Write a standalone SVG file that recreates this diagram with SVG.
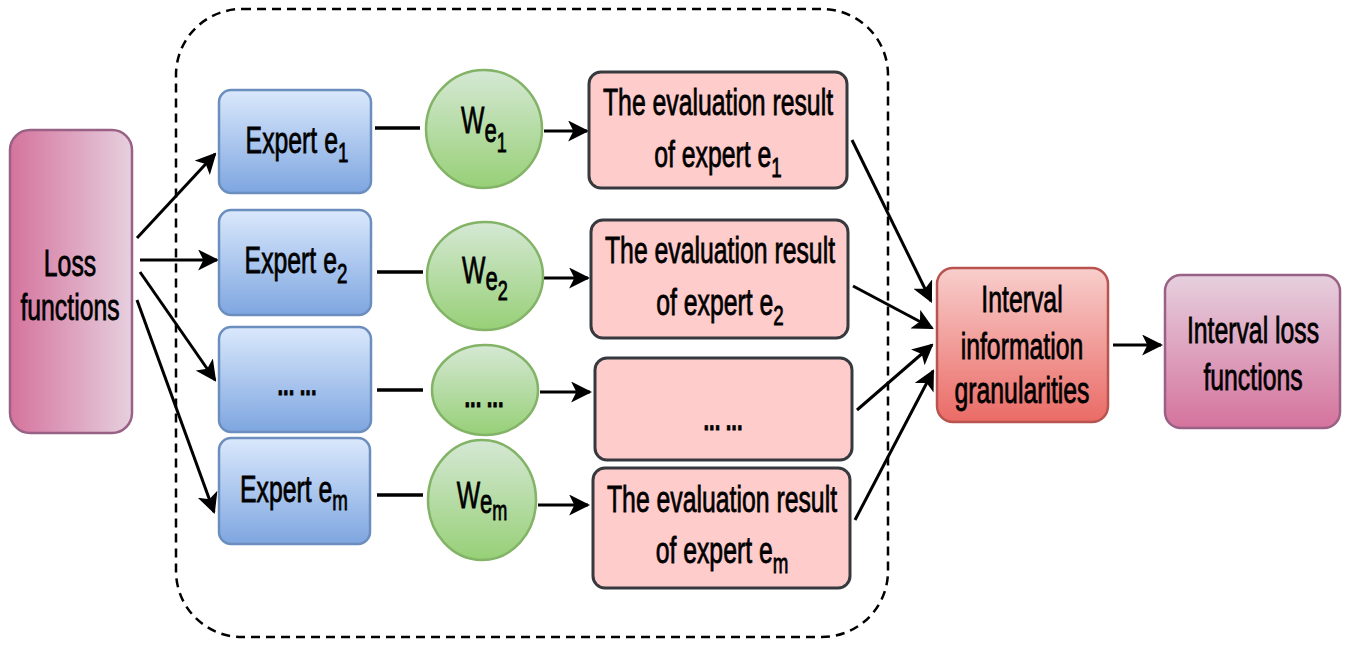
<svg xmlns="http://www.w3.org/2000/svg" width="1347" height="646" viewBox="0 0 1347 646">
<defs>
<linearGradient id="gPinkH" x1="0" y1="0" x2="1" y2="0"><stop offset="0" stop-color="#d5739d"/><stop offset="1" stop-color="#e6d0de"/></linearGradient>
<linearGradient id="gPinkV" x1="0" y1="0" x2="0" y2="1"><stop offset="0" stop-color="#e6d0de"/><stop offset="1" stop-color="#d5739d"/></linearGradient>
<linearGradient id="gRed" x1="0" y1="0" x2="0" y2="1"><stop offset="0" stop-color="#f8cecc"/><stop offset="1" stop-color="#ea6b66"/></linearGradient>
<linearGradient id="gBlue" x1="0" y1="0" x2="0" y2="1"><stop offset="0" stop-color="#dae8fc"/><stop offset="1" stop-color="#7ea6e0"/></linearGradient>
<linearGradient id="gGreen" x1="0" y1="0" x2="0" y2="1"><stop offset="0" stop-color="#d5e8d4"/><stop offset="1" stop-color="#97d077"/></linearGradient>
<marker id="arr" viewBox="0 0 10 10" refX="9" refY="5" markerWidth="7" markerHeight="7" orient="auto" markerUnits="strokeWidth">
<path d="M0,0 L10,5 L0,10 L2.5,5 Z" fill="#000"/>
</marker>
</defs>
<style>
text{font-family:"Liberation Sans",Arial,sans-serif;font-size:37px;fill:#000;stroke:#000;stroke-width:0.8;text-anchor:middle;}
.blue{fill:url(#gBlue);stroke:#6c8ebf;stroke-width:2.5;}
.green{fill:url(#gGreen);stroke:#82b366;stroke-width:2.5;}
.eval{fill:#ffcccc;stroke:#36393d;stroke-width:3;}
.c{stroke:#000;stroke-width:3.5;fill:none;}
.a{stroke:#000;stroke-width:3;fill:none;marker-end:url(#arr);}
.dots{font-weight:bold;font-size:30px;}
</style>
<rect x="176" y="9" width="712" height="628" rx="66" ry="66" fill="none" stroke="#000" stroke-width="2.5" stroke-dasharray="9 6"/>

<g id="connectors">
<line class="a" x1="137" y1="238" x2="215" y2="154"/>
<line class="a" x1="140" y1="260" x2="217" y2="260"/>
<line class="a" x1="140" y1="272" x2="215" y2="380"/>
<line class="a" x1="137" y1="300" x2="214" y2="512"/>
<line class="c" x1="375" y1="128" x2="420" y2="128"/>
<line class="c" x1="377" y1="272" x2="423" y2="272"/>
<line class="c" x1="377" y1="390" x2="423" y2="390"/>
<line class="c" x1="377" y1="495" x2="423" y2="495"/>
<line class="a" x1="544" y1="131" x2="587" y2="131"/>
<line class="a" x1="544" y1="278" x2="588" y2="278"/>
<line class="a" x1="540" y1="392" x2="590" y2="392"/>
<line class="a" x1="538" y1="505" x2="588" y2="505"/>
<line class="a" x1="852" y1="140" x2="931" y2="301"/>
<line class="a" x1="853" y1="286" x2="932" y2="328"/>
<line class="a" x1="857" y1="410" x2="932" y2="345"/>
<line class="a" x1="855" y1="520" x2="933" y2="371"/>
<line class="a" x1="1113" y1="345" x2="1161" y2="345"/>
</g>

<g id="loss">
<rect x="10" y="130" width="122" height="303" rx="20" fill="url(#gPinkH)" stroke="#996185" stroke-width="2.5"/>
<text transform="translate(70,0) scale(0.67,1)" y="276">Loss</text>
<text transform="translate(70,0) scale(0.67,1)" y="320">functions</text>
</g>

<g id="expert1">
<rect class="blue" x="219" y="90" width="152" height="103" rx="12"/>
<text transform="translate(297,0) scale(0.67,1)" y="153">Expert e<tspan font-size="28" dy="9">1</tspan></text>
</g>
<g id="expert2">
<rect class="blue" x="219" y="210" width="152" height="105" rx="12"/>
<text transform="translate(296,0) scale(0.67,1)" y="273">Expert e<tspan font-size="28" dy="10">2</tspan></text>
</g>
<g id="expert3">
<rect class="blue" x="219" y="327" width="152" height="105" rx="12"/>
<text class="dots" transform="translate(297,0) scale(0.67,1)" y="395">... ...</text>
</g>
<g id="expertm">
<rect class="blue" x="219" y="438" width="151" height="106" rx="12"/>
<text transform="translate(294,0) scale(0.67,1)" y="502">Expert e<tspan font-size="28" dy="8">m</tspan></text>
</g>

<g id="w1">
<ellipse class="green" cx="484" cy="129" rx="58" ry="59"/>
<text transform="translate(484,0) scale(0.67,1)" y="133">W<tspan font-size="33" dy="9">e</tspan><tspan font-size="27" dy="10">1</tspan></text>
</g>
<g id="w2">
<ellipse class="green" cx="485" cy="276" rx="58" ry="54"/>
<text transform="translate(485,0) scale(0.67,1)" y="283">W<tspan font-size="33" dy="7">e</tspan><tspan font-size="27" dy="10">2</tspan></text>
</g>
<g id="w3">
<ellipse class="green" cx="485" cy="390" rx="53" ry="45"/>
<text class="dots" transform="translate(484,0) scale(0.67,1)" y="407">... ...</text>
</g>
<g id="wm">
<ellipse class="green" cx="482" cy="500" rx="54" ry="60"/>
<text transform="translate(482,0) scale(0.67,1)" y="508">W<tspan font-size="33" dy="5">e</tspan><tspan font-size="27" dy="7">m</tspan></text>
</g>

<g id="eval1">
<rect class="eval" x="589" y="72" width="258" height="116" rx="12"/>
<text transform="translate(718,0) scale(0.67,1)" y="115">The evaluation result</text>
<text transform="translate(718,0) scale(0.67,1)" y="167">of expert e<tspan font-size="28" dy="10">1</tspan></text>
</g>
<g id="eval2">
<rect class="eval" x="591" y="220" width="257" height="118" rx="12"/>
<text transform="translate(720,0) scale(0.67,1)" y="263">The evaluation result</text>
<text transform="translate(720,0) scale(0.67,1)" y="315">of expert e<tspan font-size="28" dy="10">2</tspan></text>
</g>
<g id="eval3">
<rect class="eval" x="595" y="358" width="257" height="102" rx="12"/>
<text class="dots" transform="translate(723,0) scale(0.67,1)" y="430">... ...</text>
</g>
<g id="evalm">
<rect class="eval" x="593" y="468" width="257" height="120" rx="12"/>
<text transform="translate(722,0) scale(0.67,1)" y="512">The evaluation result</text>
<text transform="translate(722,0) scale(0.67,1)" y="563">of expert e<tspan font-size="28" dy="10">m</tspan></text>
</g>

<g id="interval">
<rect x="937" y="268" width="171" height="154" rx="16" fill="url(#gRed)" stroke="#b85450" stroke-width="2.5"/>
<text transform="translate(1022,0) scale(0.67,1)" y="312">Interval</text>
<text transform="translate(1022,0) scale(0.67,1)" y="359">information</text>
<text transform="translate(1022,0) scale(0.67,1)" y="403">granularities</text>
</g>

<g id="intervalLoss">
<rect x="1165" y="275" width="175" height="153" rx="16" fill="url(#gPinkV)" stroke="#996185" stroke-width="2.5"/>
<text transform="translate(1253,0) scale(0.67,1)" y="343">Interval loss</text>
<text transform="translate(1253,0) scale(0.67,1)" y="390">functions</text>
</g>
</svg>
